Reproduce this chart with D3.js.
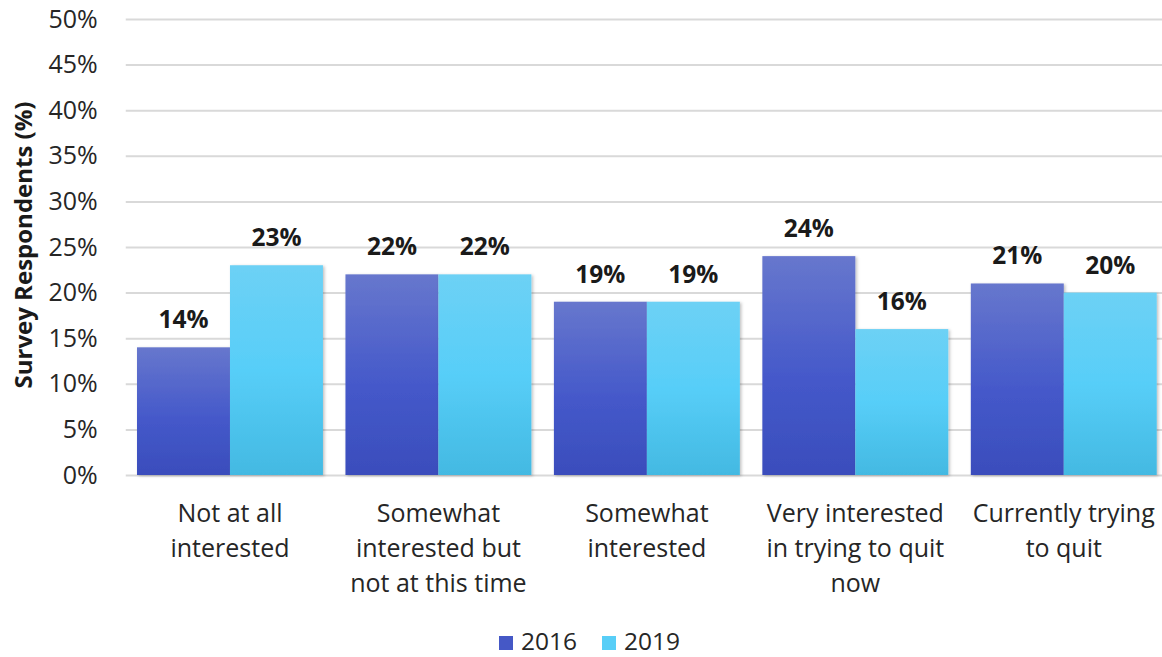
<!DOCTYPE html>
<html><head><meta charset="utf-8">
<script src="https://cdn.jsdelivr.net/npm/d3@7"></script>
<style>body{margin:0;background:#fff;} svg{display:block;font-family:"Open Sans", Lato, sans-serif;}</style>
</head><body>
<svg id="chart" width="1162" height="657"></svg>
<script>
const categories = [["Not at all","interested"],["Somewhat","interested but","not at this time"],["Somewhat","interested"],["Very interested","in trying to quit","now"],["Currently trying","to quit"]];
const series = ["2016","2019"];
const values2016 = [14,22,19,24,21];
const values2019 = [23,22,19,16,20];
const yTicks = [0,5,10,15,20,25,30,35,40,45,50];

const svg = d3.select("#chart");
const W=1162,H=657;
const mLeft=125.75, mRight=1168, mTop=19, mBottom=475;
const defs = svg.append("defs");
const g1 = defs.append("linearGradient").attr("id","g2016").attr("x1",0).attr("y1",0).attr("x2",0).attr("y2",1);
g1.append("stop").attr("offset","0%").attr("stop-color","#6777CD");
g1.append("stop").attr("offset","55%").attr("stop-color","#4559CA");
g1.append("stop").attr("offset","100%").attr("stop-color","#3A4DBC");
const g2 = defs.append("linearGradient").attr("id","g2019").attr("x1",0).attr("y1",0).attr("x2",0).attr("y2",1);
g2.append("stop").attr("offset","0%").attr("stop-color","#6DD1F5");
g2.append("stop").attr("offset","50%").attr("stop-color","#57CEF8");
g2.append("stop").attr("offset","100%").attr("stop-color","#43B9E2");
const f = defs.append("filter").attr("id","sh").attr("x","-10%").attr("y","-10%").attr("width","130%").attr("height","130%");
f.append("feDropShadow").attr("dx",1.5).attr("dy",1).attr("stdDeviation",1.5).attr("flood-color","#000").attr("flood-opacity",0.25);

const y = d3.scaleLinear().domain([0,50]).range([mBottom,mTop]);
const x0 = d3.scaleBand().domain(d3.range(categories.length)).range([mLeft,mRight]).paddingInner(0.108).paddingOuter(0.054);
const x1 = d3.scaleBand().domain(series).range([0,x0.bandwidth()]);
const color = {"2016":"url(#g2016)","2019":"url(#g2019)"};
const legendColor = {"2016":"#4558C6","2019":"#58CEF7"};

// grid
const yAxis = d3.axisLeft(y).tickValues(yTicks).tickFormat(d=>d+"%").tickSize(-(W-mLeft)).tickPadding(28);
const ga = svg.append("g").attr("transform",`translate(${mLeft},0)`).call(yAxis)
  .attr("font-family",null).attr("font-size",null);
ga.select(".domain").remove();
ga.selectAll(".tick line").attr("stroke","#d9d9d9").attr("stroke-width",2);
ga.selectAll(".tick text").attr("font-size",25).attr("fill","#262626");

// bars
const data = categories.map((c,i)=>({i, vals:[{s:"2016",v:values2016[i]},{s:"2019",v:values2019[i]}]}));
const grp = svg.append("g").selectAll("g").data(data).join("g").attr("transform",d=>`translate(${x0(d.i)},0)`);
grp.selectAll("rect").data(d=>d.vals).join("rect")
  .attr("x",d=>x1(d.s)).attr("width",x1.bandwidth())
  .attr("y",d=>y(d.v)).attr("height",d=>y(0)-y(d.v))
  .attr("fill",d=>color[d.s]).attr("filter","url(#sh)");
grp.selectAll("text.val").data(d=>d.vals).join("text").attr("class","val")
  .attr("x",d=>x1(d.s)+x1.bandwidth()/2).attr("y",d=>y(d.v)-19)
  .attr("text-anchor","middle").attr("font-size",24.5).attr("font-weight","bold").attr("fill","#1a1a1a")
  .text(d=>d.v+"%");

// category labels
const cl = svg.append("g").selectAll("text").data(categories).join("text")
  .attr("text-anchor","middle").attr("font-size",25).attr("fill","#262626")
  .attr("transform",(d,i)=>`translate(${x0(i)+x0.bandwidth()/2},522)`);
cl.selectAll("tspan").data(d=>d).join("tspan").attr("x",0).attr("dy",(d,j)=>j===0?0:35).text(d=>d);

// y title
svg.append("text").attr("transform",`translate(32,245) rotate(-90)`)
  .attr("text-anchor","middle").attr("font-size",24).attr("font-weight","bold").attr("fill","#1a1a1a")
  .text("Survey Respondents (%)");

// legend
const lg = svg.append("g").attr("transform","translate(499,642)");
const items = lg.selectAll("g").data(series).join("g").attr("transform",(d,i)=>`translate(${i*103},0)`);
items.append("rect").attr("x",0).attr("y",-6).attr("width",14).attr("height",14).attr("fill",d=>legendColor[d]);
items.append("text").attr("x",22).attr("y",8).attr("font-size",24.5).attr("fill","#262626").text(d=>d);
</script>
</body></html>
